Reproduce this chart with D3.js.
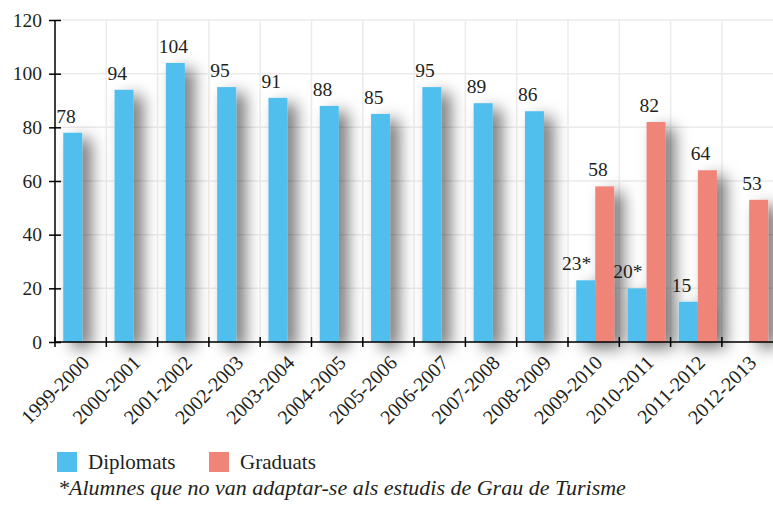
<!DOCTYPE html>
<html>
<head>
<meta charset="utf-8">
<script src="https://d3js.org/d3.v7.min.js"></script>
<style>
body {margin:0; background:white;}
svg text {font-family:"Liberation Serif", serif; fill:#231f20;}
</style>
</head>
<body>
<svg width="773" height="508"></svg>
<script>
var years = ["1999-2000","2000-2001","2001-2002","2002-2003","2003-2004","2004-2005","2005-2006",
             "2006-2007","2007-2008","2008-2009","2009-2010","2010-2011","2011-2012","2012-2013"];
var series = ["Diplomats","Graduats"];
var diplomats = [78,94,104,95,91,88,85,95,89,86,23,20,15,null];
var graduats = [null,null,null,null,null,null,null,null,null,null,58,82,64,53];
var noted = ["2009-2010","2010-2011"];   // diplomats with asterisk
var yTicks = [0,20,40,60,80,100,120];
var colors = ["#51bfee","#f08478"];
var footnote = "*Alumnes que no van adaptar-se als estudis de Grau de Turisme";

var svg = d3.select("svg");
var mLeft = 55, mRight = 773.2, mTop = 20, mBottom = 342;

var x = d3.scaleBand().domain(years).range([mLeft, mRight]);
var xs = d3.scaleBand().domain(series).range([0, x.bandwidth()]).paddingOuter(0.35).align(0.62);
var y = d3.scaleLinear().domain([0,120]).range([mBottom, mTop]);
var color = d3.scaleOrdinal().domain(series).range(colors);

var defs = svg.append("defs");
var f = defs.append("filter").attr("id","shadow").attr("x","-50%").attr("y","-50%").attr("width","250%").attr("height","200%");
f.append("feDropShadow").attr("dx",9).attr("dy",6).attr("stdDeviation",8)
  .attr("flood-color","#000").attr("flood-opacity",0.55);

// grid
svg.append("g").selectAll("line").data(yTicks).enter().append("line")
  .attr("x1", mLeft).attr("x2", mRight)
  .attr("y1", function(d){ return y(d); }).attr("y2", function(d){ return y(d); })
  .attr("stroke","#ebebeb").attr("stroke-width",1.5);
svg.append("g").selectAll("line").data(years.slice(1)).enter().append("line")
  .attr("x1", function(d){ return x(d); }).attr("x2", function(d){ return x(d); })
  .attr("y1", mTop).attr("y2", mBottom)
  .attr("stroke","#ebebeb").attr("stroke-width",1.5);

var rows = [];
years.forEach(function(yr,i){
  if (diplomats[i] != null) rows.push({year:yr, s:"Diplomats", v:diplomats[i]});
  if (graduats[i] != null) rows.push({year:yr, s:"Graduats", v:graduats[i]});
});

svg.append("g").attr("filter","url(#shadow)")
  .selectAll("rect").data(rows).enter().append("rect")
  .attr("x", function(d){ return x(d.year) + xs(d.s); })
  .attr("y", function(d){ return y(d.v); })
  .attr("width", xs.bandwidth())
  .attr("height", function(d){ return y(0) - y(d.v); })
  .attr("fill", function(d){ return color(d.s); });

function isNoted(d) { return d.s == "Diplomats" && noted.indexOf(d.year) >= 0; }

// value labels
svg.append("g").selectAll("text").data(rows).enter().append("text")
  .attr("x", function(d){
    var bx = x(d.year) + xs(d.s);
    if (isNoted(d)) return bx + xs.bandwidth() - 4;
    return bx - 7;
  })
  .attr("y", function(d){ return y(d.v) - 10; })
  .attr("text-anchor", function(d){ return isNoted(d) ? "end" : "start"; })
  .style("font-size","19.5px")
  .text(function(d){ return d.v + (isNoted(d) ? "*" : ""); });

// y axis
var yAxis = svg.append("g").attr("transform","translate(" + mLeft + ",0)")
  .call(d3.axisLeft(y).tickValues(yTicks).tickSize(6).tickPadding(7));
yAxis.selectAll(".tick line").attr("x1",6).attr("x2",-6).attr("stroke","#000").attr("stroke-width",1.5);
yAxis.select(".domain").attr("d","M0," + mTop + "V" + mBottom).attr("stroke","#000").attr("stroke-width",1.5);
yAxis.selectAll("text").style("font-size","19.5px").style("font-family","Liberation Serif").attr("fill","#231f20");

// x axis
svg.append("line").attr("x1",mLeft).attr("x2",mRight).attr("y1",mBottom).attr("y2",mBottom)
  .attr("stroke","#000").attr("stroke-width",1.5);
svg.append("g").selectAll("line").data(years).enter().append("line")
  .attr("x1", function(d){ return x(d); }).attr("x2", function(d){ return x(d); })
  .attr("y1", mBottom - 5).attr("y2", mBottom + 5)
  .attr("stroke","#000").attr("stroke-width",1.5);
svg.append("g").selectAll("text").data(years).enter().append("text")
  .attr("transform", function(d){
    return "translate(" + (x(d) + x.bandwidth()/2 + 10) + "," + 364 + ") rotate(-45)";
  })
  .attr("text-anchor","end")
  .style("font-size","20px")
  .text(function(d){ return d; });

// legend
var lg = svg.append("g").attr("transform","translate(57,452)");
var li = lg.selectAll("g").data(series).enter().append("g")
  .attr("transform", function(d,i){ return "translate(" + (i*152) + ",0)"; });
li.append("rect").attr("width",20).attr("height",20).attr("fill", function(d){ return color(d); });
li.append("text").attr("x",31).attr("y",17).style("font-size","21px").text(function(d){ return d; });

svg.append("text").attr("x",58).attr("y",495)
  .style("font-size","22px").style("font-style","italic")
  .text(footnote);
</script>
</body>
</html>
